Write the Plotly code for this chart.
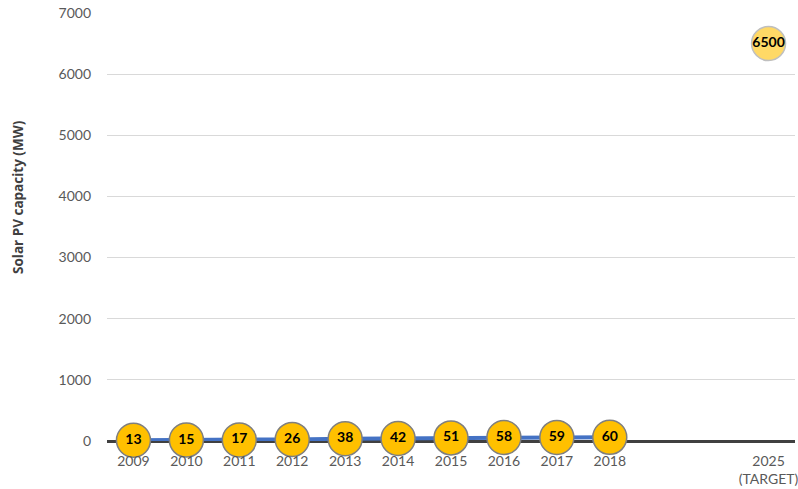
import plotly.graph_objects as go

# Installed solar PV capacity by year, plus the 2025 target
years = ["2009", "2010", "2011", "2012", "2013", "2014", "2015", "2016", "2017", "2018"]
capacity_mw = [13, 15, 17, 26, 38, 42, 51, 58, 59, 60]
target_label = "2025<br>(TARGET)"
target_mw = 6500

# Category slots: yearly values sit side by side, the target three slots after 2018
hist_pos = list(range(len(years)))
target_pos = len(years) - 1 + 3

y_ticks = [0, 1000, 2000, 3000, 4000, 5000, 6000, 7000]

fig = go.Figure()

fig.add_trace(go.Scatter(
    x=hist_pos, y=capacity_mw,
    mode="lines+markers+text",
    line=dict(color="#4472C4", width=4),
    marker=dict(size=34, color="#FFC000", line=dict(color="#7F7F7F", width=1.5)),
    text=[str(v) for v in capacity_mw],
    textposition="middle center",
    textfont=dict(family="Lato", size=14, color="#000000", weight="bold"),
    cliponaxis=False,
    hoverinfo="skip",
))

fig.add_trace(go.Scatter(
    x=[target_pos], y=[target_mw],
    mode="markers+text",
    marker=dict(size=34, color="#FFD966", line=dict(color="#BFBFBF", width=1.5)),
    text=[str(target_mw)],
    textposition="middle center",
    textfont=dict(family="Lato", size=14, color="#000000", weight="bold"),
    cliponaxis=False,
    hoverinfo="skip",
))

fig.update_layout(
    width=798, height=489,
    margin=dict(l=107, r=3, t=13, b=48),
    paper_bgcolor="white",
    plot_bgcolor="white",
    showlegend=False,
    font=dict(family="Lato", size=14, color="#595959"),
    xaxis=dict(
        range=[-0.5, target_pos + 0.5],
        tickmode="array",
        tickvals=hist_pos + [target_pos],
        ticktext=years + [target_label],
        showgrid=False,
        zeroline=False,
        showline=False,
        ticks="",
        ticklabelstandoff=10,
        ticklabeloverflow="allow",
        automargin=False,
        tickfont=dict(family="Lato", size=14, color="#595959"),
    ),
    yaxis=dict(
        range=[0, 7000],
        tickmode="array",
        tickvals=y_ticks,
        showgrid=True,
        gridcolor="#D9D9D9",
        gridwidth=1,
        zeroline=True,
        zerolinecolor="#404040",
        zerolinewidth=2.5,
        showline=False,
        ticks="",
        ticklabelstandoff=15,
        automargin=False,
        tickfont=dict(family="Lato", size=14, color="#595959"),
    ),
    annotations=[dict(
        text="Solar PV capacity (MW)",
        xref="paper", yref="paper",
        x=(18 - 107) / 688, y=(441 - 197) / 428,
        xanchor="center", yanchor="middle",
        textangle=-90, showarrow=False,
        font=dict(family="Open Sans", size=13.5, color="#404040", weight="bold"),
    )],
)

fig.write_html("out.html")
